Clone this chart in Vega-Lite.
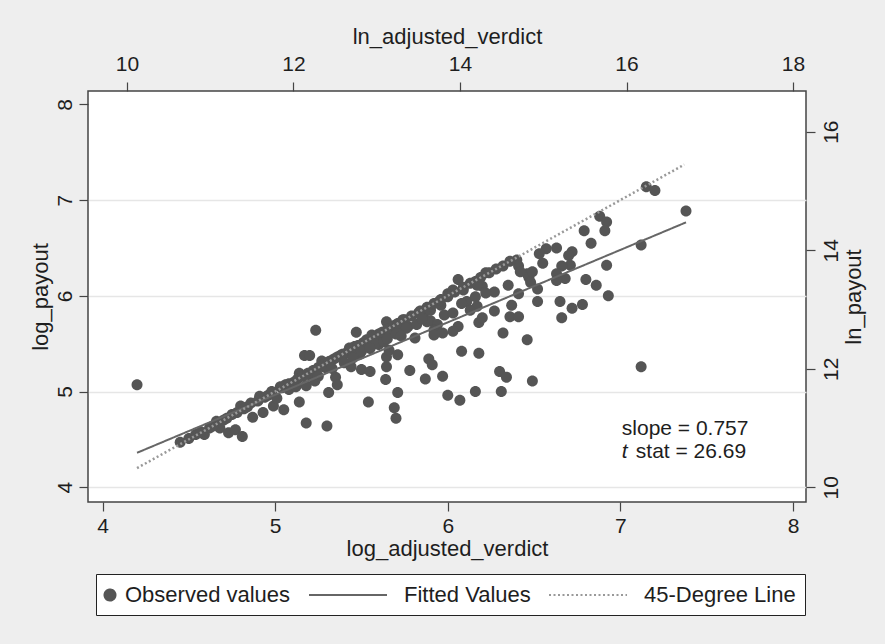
{
  "$schema": "https://vega.github.io/schema/vega-lite/v6.json",
  "width": 718,
  "height": 411,
  "autosize": {"type": "none"},
  "padding": {"left": 88, "top": 91, "right": 79, "bottom": 142},
  "background": "#eeeeee",
  "config": {
    "font": "Liberation Sans",
    "view": {"fill": "white", "stroke": "#444444", "strokeWidth": 1.5},
    "axis": {
      "labelFont": "Liberation Sans", "titleFont": "Liberation Sans",
      "labelFontSize": 21, "titleFontSize": 22,
      "labelColor": "#1e1e1e", "titleColor": "#1e1e1e", "titleFontWeight": "normal",
      "tickColor": "#444444", "tickWidth": 1.2, "tickSize": 9,
      "domain": false, "grid": false, "format": "d",
      "labelFlush": false, "labelOverlap": false, "labelBound": false
    }
  },
  "datasets": {
    "obs": [
      {"log_adjusted_verdict":4.20,"log_payout":5.07},{"log_adjusted_verdict":4.45,"log_payout":4.47},{"log_adjusted_verdict":4.50,"log_payout":4.51},{"log_adjusted_verdict":4.54,"log_payout":4.55},{"log_adjusted_verdict":4.59,"log_payout":4.55},{"log_adjusted_verdict":4.57,"log_payout":4.58},{"log_adjusted_verdict":4.62,"log_payout":4.62},{"log_adjusted_verdict":4.66,"log_payout":4.69},{"log_adjusted_verdict":4.68,"log_payout":4.62},{"log_adjusted_verdict":4.73,"log_payout":4.57},
      {"log_adjusted_verdict":4.75,"log_payout":4.76},{"log_adjusted_verdict":4.77,"log_payout":4.60},{"log_adjusted_verdict":4.81,"log_payout":4.53},{"log_adjusted_verdict":4.80,"log_payout":4.85},{"log_adjusted_verdict":4.84,"log_payout":4.84},{"log_adjusted_verdict":4.87,"log_payout":4.73},{"log_adjusted_verdict":4.86,"log_payout":4.88},{"log_adjusted_verdict":4.93,"log_payout":4.78},{"log_adjusted_verdict":4.91,"log_payout":4.95},{"log_adjusted_verdict":4.96,"log_payout":4.96},
      {"log_adjusted_verdict":4.99,"log_payout":4.85},{"log_adjusted_verdict":4.98,"log_payout":5.00},{"log_adjusted_verdict":5.01,"log_payout":4.93},{"log_adjusted_verdict":5.05,"log_payout":4.81},{"log_adjusted_verdict":5.03,"log_payout":5.05},{"log_adjusted_verdict":5.06,"log_payout":5.07},{"log_adjusted_verdict":5.08,"log_payout":5.02},{"log_adjusted_verdict":5.11,"log_payout":5.10},{"log_adjusted_verdict":5.14,"log_payout":4.89},{"log_adjusted_verdict":5.14,"log_payout":5.19},
      {"log_adjusted_verdict":5.17,"log_payout":5.375},{"log_adjusted_verdict":5.20,"log_payout":5.375},{"log_adjusted_verdict":5.18,"log_payout":5.06},{"log_adjusted_verdict":5.18,"log_payout":4.67},{"log_adjusted_verdict":5.235,"log_payout":5.64},{"log_adjusted_verdict":5.21,"log_payout":5.16},{"log_adjusted_verdict":5.23,"log_payout":5.11},{"log_adjusted_verdict":5.27,"log_payout":5.32},{"log_adjusted_verdict":5.31,"log_payout":4.99},{"log_adjusted_verdict":5.30,"log_payout":4.64},
      {"log_adjusted_verdict":5.29,"log_payout":5.25},{"log_adjusted_verdict":5.32,"log_payout":5.32},{"log_adjusted_verdict":5.35,"log_payout":5.15},{"log_adjusted_verdict":5.36,"log_payout":5.07},{"log_adjusted_verdict":5.38,"log_payout":5.38},{"log_adjusted_verdict":5.41,"log_payout":5.40},{"log_adjusted_verdict":5.43,"log_payout":5.455},{"log_adjusted_verdict":5.44,"log_payout":5.26},{"log_adjusted_verdict":5.47,"log_payout":5.62},{"log_adjusted_verdict":5.46,"log_payout":5.47},
      {"log_adjusted_verdict":5.50,"log_payout":5.23},{"log_adjusted_verdict":5.49,"log_payout":5.39},{"log_adjusted_verdict":5.54,"log_payout":4.89},{"log_adjusted_verdict":5.55,"log_payout":5.21},{"log_adjusted_verdict":5.53,"log_payout":5.54},{"log_adjusted_verdict":5.56,"log_payout":5.59},{"log_adjusted_verdict":5.60,"log_payout":5.49},{"log_adjusted_verdict":5.60,"log_payout":5.60},{"log_adjusted_verdict":5.64,"log_payout":5.125},{"log_adjusted_verdict":5.645,"log_payout":5.73},
      {"log_adjusted_verdict":5.645,"log_payout":5.26},{"log_adjusted_verdict":5.645,"log_payout":5.36},{"log_adjusted_verdict":5.66,"log_payout":5.43},{"log_adjusted_verdict":5.68,"log_payout":5.62},{"log_adjusted_verdict":5.69,"log_payout":4.83},{"log_adjusted_verdict":5.70,"log_payout":4.72},{"log_adjusted_verdict":5.71,"log_payout":4.99},{"log_adjusted_verdict":5.71,"log_payout":5.385},{"log_adjusted_verdict":5.72,"log_payout":5.65},{"log_adjusted_verdict":5.74,"log_payout":5.75},
      {"log_adjusted_verdict":5.77,"log_payout":5.68},{"log_adjusted_verdict":5.78,"log_payout":5.22},{"log_adjusted_verdict":5.81,"log_payout":5.56},{"log_adjusted_verdict":5.83,"log_payout":5.82},{"log_adjusted_verdict":5.87,"log_payout":5.13},{"log_adjusted_verdict":5.89,"log_payout":5.34},{"log_adjusted_verdict":5.91,"log_payout":5.28},{"log_adjusted_verdict":5.86,"log_payout":5.78},{"log_adjusted_verdict":5.90,"log_payout":5.74},{"log_adjusted_verdict":5.94,"log_payout":5.70},
      {"log_adjusted_verdict":5.92,"log_payout":5.64},{"log_adjusted_verdict":5.97,"log_payout":5.16},{"log_adjusted_verdict":6.00,"log_payout":4.96},{"log_adjusted_verdict":6.00,"log_payout":6.02},{"log_adjusted_verdict":5.96,"log_payout":5.90},
      {"log_adjusted_verdict":7.15,"log_payout":7.14},{"log_adjusted_verdict":7.20,"log_payout":7.10},{"log_adjusted_verdict":7.38,"log_payout":6.885},{"log_adjusted_verdict":7.12,"log_payout":6.53},{"log_adjusted_verdict":7.12,"log_payout":5.26},{"log_adjusted_verdict":6.88,"log_payout":6.83},{"log_adjusted_verdict":6.92,"log_payout":6.77},{"log_adjusted_verdict":6.91,"log_payout":6.68},{"log_adjusted_verdict":6.79,"log_payout":6.68},{"log_adjusted_verdict":6.83,"log_payout":6.55},
      {"log_adjusted_verdict":6.92,"log_payout":6.32},{"log_adjusted_verdict":6.93,"log_payout":6.00},{"log_adjusted_verdict":6.80,"log_payout":6.17},{"log_adjusted_verdict":6.86,"log_payout":6.11},{"log_adjusted_verdict":6.63,"log_payout":6.50},{"log_adjusted_verdict":6.55,"log_payout":6.34},{"log_adjusted_verdict":6.57,"log_payout":6.49},{"log_adjusted_verdict":6.53,"log_payout":6.44},{"log_adjusted_verdict":6.72,"log_payout":6.46},{"log_adjusted_verdict":6.70,"log_payout":6.42},
      {"log_adjusted_verdict":6.71,"log_payout":6.32},{"log_adjusted_verdict":6.66,"log_payout":6.31},{"log_adjusted_verdict":6.63,"log_payout":6.23},{"log_adjusted_verdict":6.68,"log_payout":6.18},{"log_adjusted_verdict":6.63,"log_payout":6.16},{"log_adjusted_verdict":6.65,"log_payout":5.94},{"log_adjusted_verdict":6.66,"log_payout":5.77},{"log_adjusted_verdict":6.72,"log_payout":5.87},{"log_adjusted_verdict":6.78,"log_payout":5.91},{"log_adjusted_verdict":6.47,"log_payout":6.19},
      {"log_adjusted_verdict":6.46,"log_payout":6.23},{"log_adjusted_verdict":6.49,"log_payout":6.25},{"log_adjusted_verdict":6.48,"log_payout":6.14},{"log_adjusted_verdict":6.52,"log_payout":6.07},{"log_adjusted_verdict":6.52,"log_payout":5.94},{"log_adjusted_verdict":6.41,"log_payout":6.02},{"log_adjusted_verdict":6.46,"log_payout":5.54},{"log_adjusted_verdict":6.49,"log_payout":5.11},{"log_adjusted_verdict":6.32,"log_payout":6.31},{"log_adjusted_verdict":6.40,"log_payout":6.375},
      {"log_adjusted_verdict":6.41,"log_payout":6.31},{"log_adjusted_verdict":6.42,"log_payout":6.25},{"log_adjusted_verdict":6.35,"log_payout":6.11},{"log_adjusted_verdict":6.37,"log_payout":5.90},{"log_adjusted_verdict":6.36,"log_payout":5.78},{"log_adjusted_verdict":6.41,"log_payout":5.78},{"log_adjusted_verdict":6.32,"log_payout":5.61},{"log_adjusted_verdict":6.30,"log_payout":5.21},{"log_adjusted_verdict":6.34,"log_payout":5.15},{"log_adjusted_verdict":6.31,"log_payout":5.00},
      {"log_adjusted_verdict":6.27,"log_payout":6.04},{"log_adjusted_verdict":6.27,"log_payout":5.84},{"log_adjusted_verdict":6.22,"log_payout":6.24},{"log_adjusted_verdict":6.18,"log_payout":5.40},{"log_adjusted_verdict":6.16,"log_payout":5.00},{"log_adjusted_verdict":6.08,"log_payout":5.42},{"log_adjusted_verdict":6.07,"log_payout":4.91},
      {"log_adjusted_verdict":6.06,"log_payout":6.17},{"log_adjusted_verdict":6.16,"log_payout":6.15},{"log_adjusted_verdict":6.20,"log_payout":6.10},{"log_adjusted_verdict":6.09,"log_payout":6.06},{"log_adjusted_verdict":6.11,"log_payout":5.94},{"log_adjusted_verdict":6.17,"log_payout":5.89},{"log_adjusted_verdict":6.18,"log_payout":5.72},{"log_adjusted_verdict":6.20,"log_payout":5.77},{"log_adjusted_verdict":6.06,"log_payout":5.68},{"log_adjusted_verdict":6.03,"log_payout":5.63},
      {"log_adjusted_verdict":5.97,"log_payout":5.61},{"log_adjusted_verdict":5.92,"log_payout":5.59},{"log_adjusted_verdict":5.88,"log_payout":5.73},{"log_adjusted_verdict":5.90,"log_payout":5.85},{"log_adjusted_verdict":6.00,"log_payout":5.99},{"log_adjusted_verdict":5.95,"log_payout":5.94},{"log_adjusted_verdict":6.03,"log_payout":6.06},{"log_adjusted_verdict":5.98,"log_payout":5.80},{"log_adjusted_verdict":6.03,"log_payout":5.82},{"log_adjusted_verdict":6.08,"log_payout":5.92},
      {"log_adjusted_verdict":6.13,"log_payout":5.85},{"log_adjusted_verdict":6.22,"log_payout":6.03},{"log_adjusted_verdict":6.16,"log_payout":5.99},{"log_adjusted_verdict":6.17,"log_payout":6.11},
      {"log_adjusted_verdict":4.64,"log_payout":4.64},{"log_adjusted_verdict":4.70,"log_payout":4.70},{"log_adjusted_verdict":4.72,"log_payout":4.72},{"log_adjusted_verdict":4.78,"log_payout":4.78},{"log_adjusted_verdict":4.82,"log_payout":4.82},{"log_adjusted_verdict":4.90,"log_payout":4.90},{"log_adjusted_verdict":4.94,"log_payout":4.94},{"log_adjusted_verdict":5.04,"log_payout":5.04},{"log_adjusted_verdict":5.08,"log_payout":5.08},{"log_adjusted_verdict":5.13,"log_payout":5.13},
      {"log_adjusted_verdict":5.16,"log_payout":5.16},{"log_adjusted_verdict":5.19,"log_payout":5.19},{"log_adjusted_verdict":5.22,"log_payout":5.22},{"log_adjusted_verdict":5.25,"log_payout":5.25},{"log_adjusted_verdict":5.28,"log_payout":5.28},{"log_adjusted_verdict":5.31,"log_payout":5.31},{"log_adjusted_verdict":5.34,"log_payout":5.34},{"log_adjusted_verdict":5.36,"log_payout":5.36},{"log_adjusted_verdict":5.39,"log_payout":5.39},{"log_adjusted_verdict":5.44,"log_payout":5.44},
      {"log_adjusted_verdict":5.48,"log_payout":5.48},{"log_adjusted_verdict":5.51,"log_payout":5.51},{"log_adjusted_verdict":5.53,"log_payout":5.53},{"log_adjusted_verdict":5.57,"log_payout":5.57},{"log_adjusted_verdict":5.62,"log_payout":5.62},{"log_adjusted_verdict":5.65,"log_payout":5.65},{"log_adjusted_verdict":5.69,"log_payout":5.69},{"log_adjusted_verdict":5.71,"log_payout":5.71},{"log_adjusted_verdict":5.75,"log_payout":5.75},{"log_adjusted_verdict":5.79,"log_payout":5.79},
      {"log_adjusted_verdict":5.84,"log_payout":5.84},{"log_adjusted_verdict":5.88,"log_payout":5.88},{"log_adjusted_verdict":5.92,"log_payout":5.92},{"log_adjusted_verdict":5.96,"log_payout":5.96},{"log_adjusted_verdict":6.04,"log_payout":6.04},{"log_adjusted_verdict":6.09,"log_payout":6.09},{"log_adjusted_verdict":6.13,"log_payout":6.13},{"log_adjusted_verdict":6.19,"log_payout":6.19},{"log_adjusted_verdict":6.24,"log_payout":6.24},{"log_adjusted_verdict":6.28,"log_payout":6.28},
      {"log_adjusted_verdict":6.36,"log_payout":6.36},
      {"log_adjusted_verdict":5.12,"log_payout":5.05},{"log_adjusted_verdict":5.25,"log_payout":5.16},{"log_adjusted_verdict":5.40,"log_payout":5.30},{"log_adjusted_verdict":5.50,"log_payout":5.42},{"log_adjusted_verdict":5.58,"log_payout":5.50},{"log_adjusted_verdict":5.63,"log_payout":5.52},{"log_adjusted_verdict":5.70,"log_payout":5.60},{"log_adjusted_verdict":5.76,"log_payout":5.66},{"log_adjusted_verdict":5.82,"log_payout":5.70},{"log_adjusted_verdict":5.85,"log_payout":5.76},
      {"log_adjusted_verdict":5.33,"log_payout":5.24},{"log_adjusted_verdict":5.45,"log_payout":5.35},{"log_adjusted_verdict":5.55,"log_payout":5.45},{"log_adjusted_verdict":5.65,"log_payout":5.55},{"log_adjusted_verdict":5.73,"log_payout":5.58}
    ],
    "fit": [
      {"log_adjusted_verdict":4.20,"log_payout":4.36},
      {"log_adjusted_verdict":7.38,"log_payout":6.767}
    ],
    "deg45": [
      {"log_adjusted_verdict":4.20,"log_payout":4.20},
      {"log_adjusted_verdict":7.37,"log_payout":7.37}
    ],
    "note1": [{"log_adjusted_verdict":7.008,"log_payout":4.546,"label":"slope = 0.757"}],
    "note2": [{"log_adjusted_verdict":7.008,"log_payout":4.305,"label":"t"}],
    "note3": [{"log_adjusted_verdict":7.008,"log_payout":4.305,"label":"stat = 26.69"}],
    "ln": [{"ln_adjusted_verdict":10,"ln_payout":10}]
  },
  "layer": [
    {
      "layer": [
        {
          "data": {"name": "obs"},
          "mark": {"type": "point", "filled": true, "opacity": 1, "strokeWidth": 0, "size": 484},
          "encoding": {
            "x": {
              "field": "log_adjusted_verdict", "type": "quantitative",
              "scale": {"domain": [3.916, 8.075], "nice": false, "zero": false},
              "axis": {"orient": "bottom", "title": "log_adjusted_verdict", "values": [4, 5, 6, 7, 8], "labelPadding": 4, "titlePadding": 2}
            },
            "y": {
              "field": "log_payout", "type": "quantitative",
              "scale": {"domain": [3.846, 8.139], "nice": false, "zero": false},
              "axis": {
                "orient": "left", "title": "log_payout", "values": [4, 5, 6, 7, 8],
                "labelAngle": -90, "labelAlign": "center", "labelBaseline": "bottom", "labelPadding": 4,
                "titlePadding": 2,
                "grid": true, "gridColor": "#e6e6e6", "gridWidth": 1.5,
                "gridOpacity": {"condition": {"test": "datum.value === 8", "value": 0}, "value": 1}
              }
            },
            "color": {
              "datum": "Observed values",
              "scale": {"domain": ["Observed values", "Fitted Values", "45-Degree Line"], "range": ["#555555", "#666666", "#999999"]},
              "legend": {
                "title": null, "orient": "none", "legendX": 8, "legendY": 483, "direction": "horizontal",
                "fillColor": "white", "strokeColor": "#222222", "padding": 9,
                "labelFont": "Liberation Sans", "labelFontSize": 22, "labelColor": "#1e1e1e", "labelOffset": 3, "labelLimit": 0,
                "columnPadding": 14, "symbolSize": 484, "symbolStrokeWidth": 2, "symbolOffset": -7
              }
            },
            "shape": {
              "datum": "Observed values",
              "scale": {
                "domain": ["Observed values", "Fitted Values", "45-Degree Line"],
                "range": [
                  "M-0.5,0A0.5,0.5,0,1,1,0.5,0A0.5,0.5,0,1,1,-0.5,0Z",
                  "M-7.272,0H-0.181",
                  "M-7.272,0H-0.181"
                ]
              },
              "legend": {"title": null}
            }
          }
        },
        {
          "data": {"name": "fit"},
          "mark": {"type": "line", "strokeWidth": 2},
          "encoding": {
            "x": {"field": "log_adjusted_verdict", "type": "quantitative"},
            "y": {"field": "log_payout", "type": "quantitative"},
            "color": {"datum": "Fitted Values"},
            "strokeDash": {
              "datum": "Fitted Values",
              "scale": {"domain": ["Observed values", "Fitted Values", "45-Degree Line"], "range": [[1, 0], [1, 0], [2, 2.5]]},
              "legend": {"title": null}
            }
          }
        },
        {
          "data": {"name": "deg45"},
          "mark": {"type": "line", "strokeWidth": 2.5},
          "encoding": {
            "x": {"field": "log_adjusted_verdict", "type": "quantitative"},
            "y": {"field": "log_payout", "type": "quantitative"},
            "color": {"datum": "45-Degree Line"},
            "strokeDash": {"datum": "45-Degree Line"}
          }
        },
        {
          "data": {"name": "note1"},
          "mark": {"type": "text", "align": "left", "baseline": "alphabetic", "fontSize": 21, "color": "#1e1e1e", "font": "Liberation Sans"},
          "encoding": {
            "x": {"field": "log_adjusted_verdict", "type": "quantitative"},
            "y": {"field": "log_payout", "type": "quantitative"},
            "text": {"field": "label"}
          }
        },
        {
          "data": {"name": "note2"},
          "mark": {"type": "text", "align": "left", "baseline": "alphabetic", "fontSize": 21, "fontStyle": "italic", "color": "#1e1e1e", "font": "Liberation Sans"},
          "encoding": {
            "x": {"field": "log_adjusted_verdict", "type": "quantitative"},
            "y": {"field": "log_payout", "type": "quantitative"},
            "text": {"field": "label"}
          }
        },
        {
          "data": {"name": "note3"},
          "mark": {"type": "text", "align": "left", "baseline": "alphabetic", "fontSize": 21, "dx": 14, "color": "#1e1e1e", "font": "Liberation Sans"},
          "encoding": {
            "x": {"field": "log_adjusted_verdict", "type": "quantitative"},
            "y": {"field": "log_payout", "type": "quantitative"},
            "text": {"field": "label"}
          }
        }
      ]
    },
    {
      "data": {"name": "ln"},
      "mark": {"type": "point", "opacity": 0},
      "encoding": {
        "x": {
          "field": "ln_adjusted_verdict", "type": "quantitative",
          "scale": {"domain": [9.532, 18.156], "nice": false, "zero": false},
          "axis": {"orient": "top", "title": "ln_adjusted_verdict", "values": [10, 12, 14, 16, 18], "labelPadding": 8, "titlePadding": 5}
        },
        "y": {
          "field": "ln_payout", "type": "quantitative",
          "scale": {"domain": [9.752, 16.686], "nice": false, "zero": false},
          "axis": {
            "orient": "right", "title": "ln_payout", "values": [10, 12, 14, 16],
            "labelAngle": -90, "labelAlign": "center", "labelBaseline": "top", "labelPadding": 5,
            "titleAngle": -90, "titleBaseline": "top", "titlePadding": 2
          }
        }
      }
    }
  ],
  "resolve": {"scale": {"x": "independent", "y": "independent"}}
}
